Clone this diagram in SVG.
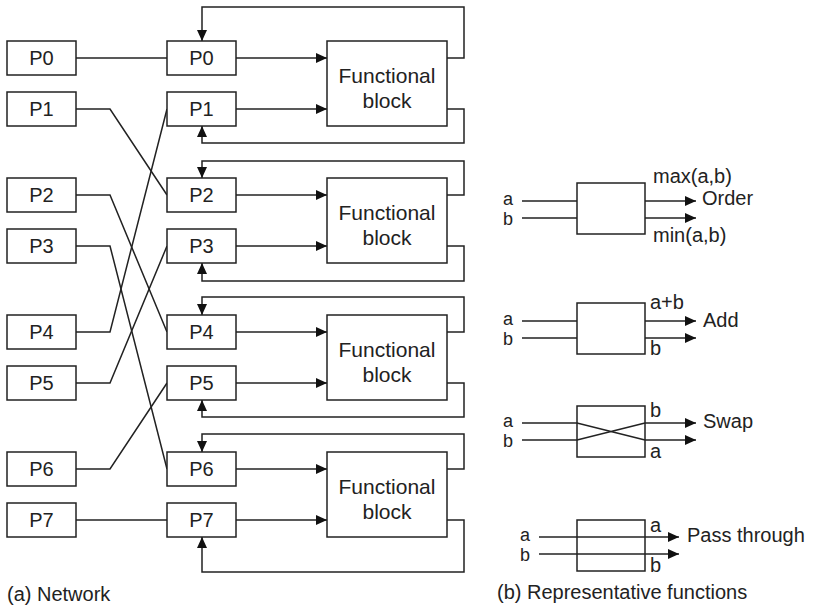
<svg xmlns="http://www.w3.org/2000/svg" width="815" height="606" viewBox="0 0 815 606">
<defs>
<marker id="ah" viewBox="0 0 11 10" refX="11" refY="5" markerWidth="11" markerHeight="10" markerUnits="userSpaceOnUse" orient="auto"><path d="M0,0 L11,5 L0,10 z" fill="#111"/></marker>
<style>
.b{fill:#fff;stroke:#222;stroke-width:1.5}
.c{fill:none;stroke:#222;stroke-width:1.5}
.a{fill:none;stroke:#222;stroke-width:1.5;marker-end:url(#ah)}
text{font-family:"Liberation Sans",Arial,sans-serif;font-size:20px;fill:#222}
.m{text-anchor:middle}
.f{font-size:21px;text-anchor:middle}
.s{font-size:18px}
</style>
</defs>
<rect width="815" height="606" fill="#fff"/>
<g id="connectors">
<path class="c" d="M76,58 H167"/>
<path class="c" d="M76,109 H110 L167,195"/>
<path class="c" d="M76,195 H110 L167,332"/>
<path class="c" d="M76,246 H110 L167,469"/>
<path class="c" d="M76,332 H110 L167,109"/>
<path class="c" d="M76,383 H110 L167,246"/>
<path class="c" d="M76,469 H110 L167,383"/>
<path class="c" d="M76,520 H167"/>
<path class="a" d="M236,58 H327"/>
<path class="a" d="M236,109 H327"/>
<path class="a" d="M236,195 H327"/>
<path class="a" d="M236,246 H327"/>
<path class="a" d="M236,332 H327"/>
<path class="a" d="M236,383 H327"/>
<path class="a" d="M236,469 H327"/>
<path class="a" d="M236,520 H327"/>
<path class="a" d="M447,58 H464 V7 H202 V41"/>
<path class="a" d="M447,109 H464 V143 H202 V126"/>
<path class="a" d="M447,195 H464 V161 H202 V178"/>
<path class="a" d="M447,246 H464 V281 H202 V263"/>
<path class="a" d="M447,332 H464 V297 H202 V315"/>
<path class="a" d="M447,383 H464 V417 H202 V400"/>
<path class="a" d="M447,469 H464 V434 H202 V452"/>
<path class="a" d="M447,520 H464 V572 H202 V537"/>
</g>
<g id="in0"><rect class="b" x="7" y="41" width="69" height="34"/><text class="m" x="41.5" y="65">P0</text></g>
<g id="in1"><rect class="b" x="7" y="92" width="69" height="34"/><text class="m" x="41.5" y="116">P1</text></g>
<g id="in2"><rect class="b" x="7" y="178" width="69" height="34"/><text class="m" x="41.5" y="202">P2</text></g>
<g id="in3"><rect class="b" x="7" y="229" width="69" height="34"/><text class="m" x="41.5" y="253">P3</text></g>
<g id="in4"><rect class="b" x="7" y="315" width="69" height="34"/><text class="m" x="41.5" y="339">P4</text></g>
<g id="in5"><rect class="b" x="7" y="366" width="69" height="34"/><text class="m" x="41.5" y="390">P5</text></g>
<g id="in6"><rect class="b" x="7" y="452" width="69" height="34"/><text class="m" x="41.5" y="476">P6</text></g>
<g id="in7"><rect class="b" x="7" y="503" width="69" height="34"/><text class="m" x="41.5" y="527">P7</text></g>
<g id="mid0"><rect class="b" x="167" y="41" width="69" height="34"/><text class="m" x="201.5" y="65">P0</text></g>
<g id="mid1"><rect class="b" x="167" y="92" width="69" height="34"/><text class="m" x="201.5" y="116">P1</text></g>
<g id="mid2"><rect class="b" x="167" y="178" width="69" height="34"/><text class="m" x="201.5" y="202">P2</text></g>
<g id="mid3"><rect class="b" x="167" y="229" width="69" height="34"/><text class="m" x="201.5" y="253">P3</text></g>
<g id="mid4"><rect class="b" x="167" y="315" width="69" height="34"/><text class="m" x="201.5" y="339">P4</text></g>
<g id="mid5"><rect class="b" x="167" y="366" width="69" height="34"/><text class="m" x="201.5" y="390">P5</text></g>
<g id="mid6"><rect class="b" x="167" y="452" width="69" height="34"/><text class="m" x="201.5" y="476">P6</text></g>
<g id="mid7"><rect class="b" x="167" y="503" width="69" height="34"/><text class="m" x="201.5" y="527">P7</text></g>
<g id="fb0"><rect class="b" x="327" y="41" width="120" height="85"/><text class="f" x="387" y="83">Functional</text><text class="f" x="387" y="108">block</text></g>
<g id="fb1"><rect class="b" x="327" y="178" width="120" height="85"/><text class="f" x="387" y="220">Functional</text><text class="f" x="387" y="245">block</text></g>
<g id="fb2"><rect class="b" x="327" y="315" width="120" height="85"/><text class="f" x="387" y="357">Functional</text><text class="f" x="387" y="382">block</text></g>
<g id="fb3"><rect class="b" x="327" y="452" width="120" height="85"/><text class="f" x="387" y="494">Functional</text><text class="f" x="387" y="519">block</text></g>
<text x="7" y="601">(a) Network</text>
<g id="order">
<rect class="b" x="577" y="183" width="68" height="51"/>
<path class="c" d="M522,201 H577 M522,218 H577"/>
<path class="a" d="M645,201 H696"/>
<path class="a" d="M645,218 H696"/>
<text class="s" x="503" y="205">a</text><text class="s" x="503" y="225">b</text>
<text x="653" y="183">max(a,b)</text>
<text x="702" y="205">Order</text>
<text x="653" y="242">min(a,b)</text>
</g>
<g id="add">
<rect class="b" x="577" y="303" width="68" height="51"/>
<path class="c" d="M522,321 H577 M522,338 H577"/>
<path class="a" d="M645,321 H696"/>
<path class="a" d="M645,338 H696"/>
<text class="s" x="503" y="325">a</text><text class="s" x="503" y="345">b</text>
<text x="650" y="309">a+b</text>
<text x="703" y="327">Add</text>
<text x="650" y="355">b</text>
</g>
<g id="swap">
<rect class="b" x="577" y="406" width="68" height="51"/>
<path class="c" d="M522,423 H577 L645,440 M522,440 H577 L645,423"/>
<path class="a" d="M645,423 H696"/>
<path class="a" d="M645,440 H696"/>
<text class="s" x="503" y="427">a</text><text class="s" x="503" y="447">b</text>
<text x="650" y="417">b</text>
<text x="703" y="428">Swap</text>
<text x="650" y="458">a</text>
</g>
<g id="pass">
<rect class="b" x="577" y="520" width="68" height="51"/>
<path class="a" d="M539,537 H679"/>
<path class="a" d="M539,554 H679"/>
<text class="s" x="520" y="541">a</text><text class="s" x="520" y="561">b</text>
<text x="650" y="532">a</text>
<text x="687" y="542">Pass through</text>
<text x="650" y="572">b</text>
</g>
<text x="497" y="599">(b) Representative functions</text>
</svg>
